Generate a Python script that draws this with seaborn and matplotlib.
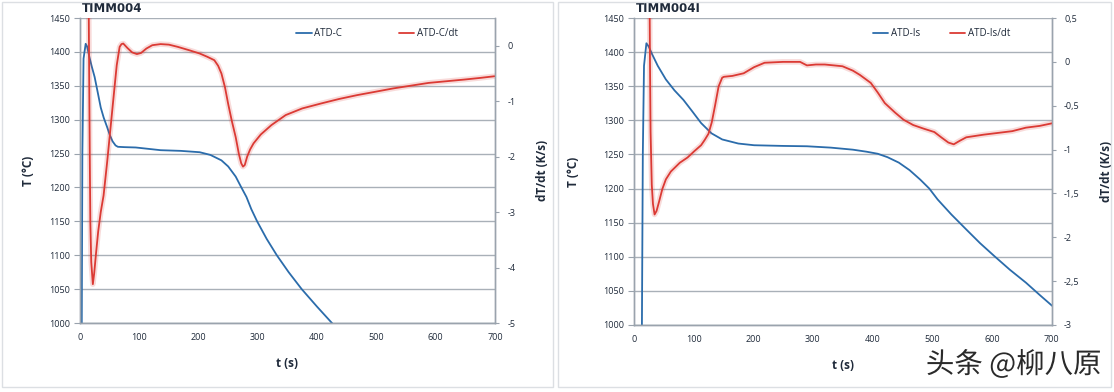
import matplotlib
matplotlib.use("Agg")
import matplotlib.pyplot as plt
import matplotlib.patheffects as pe
from matplotlib.patches import Rectangle
import seaborn as sns
import pandas as pd

# ---- data ----
# TIMM004 (left panel)
t_c = [3, 4, 6, 9.6, 12, 16, 20, 24.7, 30, 35, 40, 45.8, 50, 55, 60, 63.9, 75, 94, 136, 170,
       202, 220, 238.6, 250, 262.7, 271, 280.8, 289, 298.8, 315, 332, 352, 374, 400, 425, 432]
T_c = [1000, 1250, 1390, 1412, 1408, 1392, 1378, 1363, 1340, 1318, 1303, 1289, 1278, 1268,
       1262, 1260, 1259.5, 1259, 1255, 1254, 1252, 1248, 1240, 1231, 1216, 1202, 1186, 1168,
       1150, 1124, 1100, 1075, 1050, 1024, 1000, 993]
t_c_dt = [14.5, 15.5, 16.5, 17.5, 19, 21.7, 24, 27, 30.7, 35, 39.8, 45.8, 51.8, 57.8, 62, 66.9,
          70, 73, 80, 88, 96, 103, 112, 122, 136, 150, 165, 184, 202, 215, 226.6, 233, 238.6,
          244.6, 250, 256, 262.7, 268, 272, 275, 278, 282, 287, 292.8, 305, 323, 347, 375, 407,
          437, 467.6, 498, 528, 558, 588, 618, 648, 675, 699]
dT_c = [1.0, -0.5, -2.0, -3.2, -3.9, -4.3, -4.1, -3.75, -3.35, -3.0, -2.7, -2.1, -1.45, -0.8,
        -0.35, -0.02, 0.03, 0.04, -0.04, -0.12, -0.15, -0.13, -0.05, 0.01, 0.03, 0.02, -0.02,
        -0.08, -0.14, -0.2, -0.26, -0.36, -0.5, -0.75, -1.05, -1.35, -1.65, -1.95, -2.12, -2.18,
        -2.15, -2.0, -1.87, -1.76, -1.6, -1.43, -1.25, -1.13, -1.04, -0.96, -0.89, -0.83, -0.77,
        -0.72, -0.67, -0.64, -0.61, -0.58, -0.55]

# TIMM004I (right panel)
t_is = [13.5, 15, 17, 21, 25, 30, 40, 53.6, 68, 83, 98, 112.7, 130, 148, 175, 201.5, 250, 290,
        330, 367, 390, 408.7, 425, 444, 462, 480, 495, 509, 532, 557, 580, 604, 630, 657, 680,
        701]
T_is = [1000, 1250, 1380, 1413, 1408, 1398, 1380, 1360, 1344, 1330, 1313, 1296, 1281, 1272,
        1266, 1263.5, 1262.5, 1262, 1260, 1257, 1254, 1251, 1246, 1238, 1227, 1213, 1200, 1184,
        1162, 1140, 1120, 1101, 1081, 1062, 1044, 1028]
t_is_dt = [26, 27, 28, 30, 32, 34.7, 38, 42, 47.7, 53.6, 62, 77, 90, 101, 112.7, 118.7, 125,
           130.5, 136, 142, 148, 151, 165, 184, 201.5, 219, 250, 270, 278.5, 290, 305, 320, 335,
           349.6, 367, 379, 397, 408.7, 420.5, 438, 452, 468, 485, 503.5, 515, 527, 536, 546,
           557, 586, 610, 634, 657, 680, 701]
dT_is = [1.0, 0.0, -0.8, -1.4, -1.62, -1.74, -1.7, -1.6, -1.45, -1.34, -1.25, -1.15, -1.09,
         -1.02, -0.95, -0.89, -0.82, -0.69, -0.5, -0.28, -0.18, -0.17, -0.16, -0.13, -0.06,
         -0.01, 0.0, 0.0, 0.0, -0.04, -0.03, -0.03, -0.04, -0.05, -0.1, -0.15, -0.24, -0.35,
         -0.47, -0.58, -0.66, -0.72, -0.76, -0.8, -0.86, -0.92, -0.94, -0.9, -0.86, -0.83,
         -0.81, -0.79, -0.75, -0.73, -0.7]

x_ticks = [0, 100, 200, 300, 400, 500, 600, 700]
T_ticks = [1000, 1050, 1100, 1150, 1200, 1250, 1300, 1350, 1400, 1450]
dt_ticks_c = [0, -1, -2, -3, -4, -5]
dt_labels_c = ["0", "-1", "-2", "-3", "-4", "-5"]
dt_ticks_is = [0.5, 0, -0.5, -1, -1.5, -2, -2.5, -3]
dt_labels_is = ["0,5", "0", "-0,5", "-1", "-1,5", "-2", "-2,5", "-3"]

BLUE = "#2b6cab"
RED = "#db3a34"
GRID = "#a9b0b8"
TXT = "#1f2a3a"

sns.set_style("white")
plt.rcParams["font.family"] = ["Open Sans", "DejaVu Sans"]

fig = plt.figure(figsize=(11.14, 3.92), dpi=100)

# light panel frames
for x0, w in [(0.002, 0.494), (0.501, 0.496)]:
    fig.patches.append(Rectangle((x0, 0.012), w, 0.982, transform=fig.transFigure,
                                 fill=False, edgecolor="#dcdfe3", linewidth=1))


def panel(rect, title, t, T, t_dt, dT, name, dylim, dticks, dlabels, leg_x, colsp, lab_x):
    ax = fig.add_axes(rect)
    ax2 = ax.twinx()

    sns.lineplot(data=pd.DataFrame({"t": t, "T": T}), x="t", y="T", ax=ax,
                 color=BLUE, linewidth=1.3, label=name, sort=False)
    df = pd.DataFrame({"t": t_dt, "d": dT})
    # soft halo under the red curve
    sns.lineplot(data=df, x="t", y="d", ax=ax2, color=RED, linewidth=4, alpha=0.18,
                 sort=False, legend=False)
    sns.lineplot(data=df, x="t", y="d", ax=ax2, color=RED, linewidth=1.3,
                 label=name + "/dt", sort=False)

    ax.set_xlim(0, 700)
    ax.set_ylim(1000, 1450)
    ax.set_xticks(x_ticks)
    ax.set_yticks(T_ticks)
    ax2.set_ylim(*dylim)
    ax2.set_yticks(dticks)
    ax2.set_yticklabels(dlabels)

    ax.grid(axis="y", color=GRID, linewidth=1)
    ax.grid(axis="x", visible=False)
    ax2.grid(False)
    ax.set_axisbelow(True)

    for a in (ax, ax2):
        a.spines["top"].set_visible(False)
        for s in ("left", "right", "bottom"):
            a.spines[s].set_color("#9aa3ad")
            a.spines[s].set_linewidth(1)
        a.tick_params(labelsize=6.5, colors="#9aa3ad", labelcolor=TXT, length=3, width=0.8)
    ax.tick_params(axis="x", direction="out", length=3, pad=4)
    ax.tick_params(axis="y", direction="out", length=4, pad=3)
    ax2.tick_params(axis="y", direction="out", length=3, pad=6)

    ax.set_xlabel("t (s)", fontsize=8.5, fontweight="bold", color=TXT)
    ax.set_ylabel("T (°C)", fontsize=8.5, fontweight="bold", color=TXT)
    ax2.set_ylabel("dT/dt (K/s)", fontsize=8.5, fontweight="bold", color=TXT)
    ax.xaxis.set_label_coords(0.5, -0.11)
    ax.yaxis.set_label_coords(lab_x[0], 0.5)
    ax2.yaxis.set_label_coords(lab_x[1], 0.5)

    ax.text(0.005, 1.03, title, transform=ax.transAxes, fontsize=8.5, fontweight="bold",
            color=TXT, va="center", ha="left", family=["DejaVu Sans"])

    h1, l1 = ax.get_legend_handles_labels()
    h2, l2 = ax2.get_legend_handles_labels()
    if ax.get_legend():
        ax.get_legend().remove()
    if ax2.get_legend():
        ax2.get_legend().remove()
    leg = ax2.legend(h1 + h2, l1 + l2, loc="center", bbox_to_anchor=(leg_x, 0.948),
                     ncol=2, frameon=False, fontsize=7, handlelength=1.6,
                     columnspacing=colsp, handletextpad=0.3, borderaxespad=0)
    for txt in leg.get_texts():
        txt.set_color(TXT)
    return ax, ax2


panel([0.0718, 0.176, 0.3725, 0.778], "TIMM004", t_c, T_c, t_c_dt, dT_c, "ATD-C",
      (-5, 0.5), dt_ticks_c, dt_labels_c, 0.716, 5.8, (-0.108, 1.10))
panel([0.569, 0.171, 0.375, 0.783], "TIMM004I", t_is, T_is, t_is_dt, dT_is, "ATD-Is",
      (-3, 0.5), dt_ticks_is, dt_labels_is, 0.737, 3.0, (-0.129, 1.115))

fig.text(0.989, 0.069, "头条 @柳八原", fontsize=20.5, color="#2a2a2a", ha="right", va="center",
         family=["Noto Sans CJK SC", "DejaVu Sans"],
         path_effects=[pe.withStroke(linewidth=2.5, foreground="white")])

fig.savefig("out.png", dpi=100)
